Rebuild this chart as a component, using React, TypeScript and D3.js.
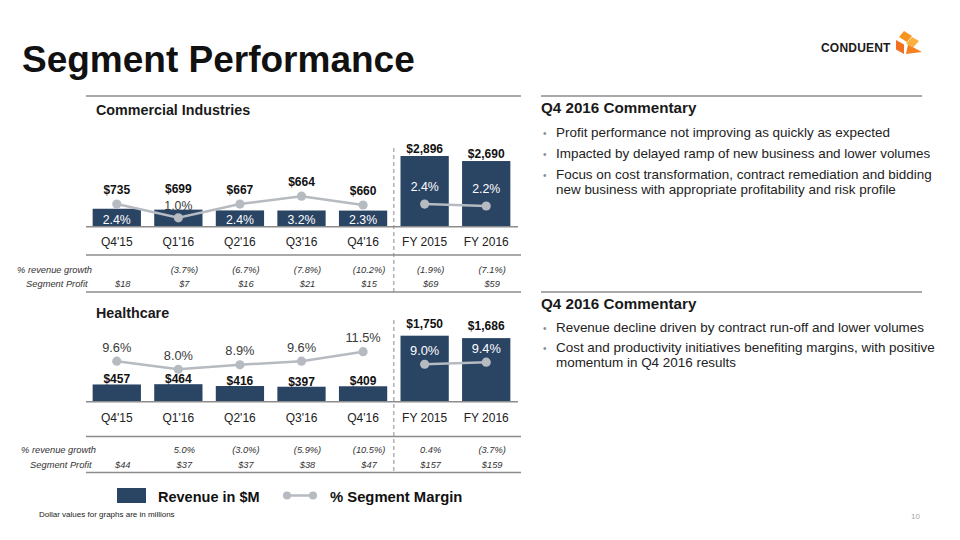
import React from 'react';
import * as d3 from 'd3';

const categories = ["Q4'15", "Q1'16", "Q2'16", "Q3'16", "Q4'16", "FY 2015", "FY 2016"];
const ciRevenue = [735, 699, 667, 664, 660, 2896, 2690];
const ciMargin = [2.4, 1.0, 2.4, 3.2, 2.3, 2.4, 2.2];
const ciGrowth = ["", "(3.7%)", "(6.7%)", "(7.8%)", "(10.2%)", "(1.9%)", "(7.1%)"];
const ciProfit = ["$18", "$7", "$16", "$21", "$15", "$69", "$59"];
const hcRevenue = [457, 464, 416, 397, 409, 1750, 1686];
const hcMargin = [9.6, 8.0, 8.9, 9.6, 11.5, 9.0, 9.4];
const hcGrowth = ["", "5.0%", "(3.0%)", "(5.9%)", "(10.5%)", "0.4%", "(3.7%)"];
const hcProfit = ["$44", "$37", "$37", "$38", "$47", "$157", "$159"];
const rowLabels = ["% revenue growth", "Segment Profit"];
const ciCommentary = [
  ["Profit performance not improving as quickly as expected"],
  ["Impacted by delayed ramp of new business and lower volumes"],
  ["Focus on cost transformation, contract remediation and bidding", "new business with appropriate profitability and risk profile"],
];
const hcCommentary = [
  ["Revenue decline driven by contract run-off and lower volumes"],
  ["Cost and productivity initiatives benefiting margins, with positive", "momentum in Q4 2016 results"],
];

const FONT = "'Liberation Sans', Arial, Helvetica, sans-serif";
const NAVY = "#2a4464";
const LINE = "#b6bac1";
const RULE = "#8c8c8c";
const NFY = 5;

type PanelProps = {
  title: string;
  titleY: number;
  axisY: number;
  revenue: number[];
  margin: number[];
  growth: string[];
  profit: string[];
  revMax: number;
  revPx: number;
  mDomain: [number, number];
  quarterMode: 'inBar' | 'above';
  fyMarginGap: number;
  fyRevGap: number;
  marginFont: number;
  catY: number;
  tableTop: number;
  row1: number;
  row2: number;
  tableBottom: number;
  dashTop: number;
  labelRight: number;
};

function Panel(p: PanelProps) {
  const x = d3.scaleBand<string>().domain(categories).range([86, 517]).paddingInner(0.216).paddingOuter(0.108);
  const bw = x.bandwidth();
  const cx = (c: string) => (x(c) as number) + bw / 2;
  const yR = d3.scaleLinear().domain([0, p.revMax]).range([p.axisY, p.axisY - p.revPx]);
  const yM = d3.scaleLinear().domain(p.mDomain).range([p.axisY, p.axisY - p.revPx]);
  const pts = categories.map((c, i) => [cx(c), yM(p.margin[i])] as [number, number]);
  const line = d3.line<[number, number]>().x(d => d[0]).y(d => d[1]);
  const dashX = ((x(categories[4]) as number) + bw + (x(categories[5]) as number)) / 2;

  const labels = categories.map((c, i) => {
    const px = pts[i][1];
    const top = yR(p.revenue[i]);
    let mY: number, mFill: string, revY: number;
    if (i >= NFY) {
      mY = px - p.fyMarginGap;
      mFill = '#ffffff';
      revY = top - p.fyRevGap;
    } else if (p.quarterMode === 'inBar' && px < top) {
      mY = p.axisY - 3;
      mFill = '#ffffff';
      revY = px - 10;
    } else if (p.quarterMode === 'inBar') {
      mY = px - 8;
      mFill = '#3a3a3a';
      revY = mY - 16.5;
    } else {
      mY = px - 9.5;
      mFill = '#3a3a3a';
      revY = top - 1;
    }
    return { c, mY, mFill, revY };
  });

  return (
    <g>
      <text x={96} y={p.titleY} fontSize={14.3} fontWeight="bold" fill="#1a1a1a">{p.title}</text>
      {categories.map((c, i) => (
        <rect key={c} x={x(c)} y={yR(p.revenue[i])} width={bw} height={p.axisY - yR(p.revenue[i])} fill={NAVY} />
      ))}
      <line x1={86} x2={518} y1={p.axisY} y2={p.axisY} stroke={RULE} strokeWidth={1.5} />
      <path d={line(pts.slice(0, NFY)) || ''} fill="none" stroke={LINE} strokeWidth={2.5} />
      <path d={line(pts.slice(NFY)) || ''} fill="none" stroke={LINE} strokeWidth={2.5} />
      {pts.map((d, i) => (
        <circle key={i} cx={d[0]} cy={d[1]} r={4.6} fill={LINE} />
      ))}
      {labels.map((l, i) => (
        <g key={l.c}>
          <text x={cx(l.c)} y={l.mY} textAnchor="middle" fontSize={p.marginFont} fill={l.mFill}>
            {d3.format('.1f')(p.margin[i]) + '%'}
          </text>
          <text x={cx(l.c)} y={l.revY} textAnchor="middle" fontSize={12} fontWeight="bold" fill="#111">
            {'$' + d3.format(',')(p.revenue[i])}
          </text>
          <text x={cx(l.c)} y={p.catY} textAnchor="middle" fontSize={12} fill="#222">{l.c}</text>
        </g>
      ))}
      <line x1={dashX} x2={dashX} y1={p.dashTop} y2={p.tableBottom} stroke={RULE} strokeWidth={1} strokeDasharray="4,3" />
      <line x1={86} x2={521} y1={p.tableTop} y2={p.tableTop} stroke={RULE} strokeWidth={1.5} />
      <line x1={86} x2={521} y1={p.tableBottom} y2={p.tableBottom} stroke={RULE} strokeWidth={1.5} />
      <text x={p.labelRight} y={p.row1} textAnchor="end" fontSize={9.3} fontStyle="italic" fill="#333">{rowLabels[0]}</text>
      <text x={p.labelRight - 4.4} y={p.row2} textAnchor="end" fontSize={9.3} fontStyle="italic" fill="#333">{rowLabels[1]}</text>
      {categories.map((c, i) => (
        <g key={'t' + c}>
          <text x={cx(c) + 6} y={p.row1} textAnchor="middle" fontSize={9.3} fontStyle="italic" fill="#333">{p.growth[i]}</text>
          <text x={cx(c) + 6} y={p.row2} textAnchor="middle" fontSize={9.3} fontStyle="italic" fill="#333">{p.profit[i]}</text>
        </g>
      ))}
    </g>
  );
}

function Commentary({ top, bullets, lineYs }: { top: number; bullets: string[][]; lineYs: number[][] }) {
  return (
    <g>
      <line x1={541} x2={922} y1={top} y2={top} stroke={RULE} strokeWidth={1.5} />
      <text x={541} y={top + 17} fontSize={15.2} fontWeight="bold" fill="#1a1a1a">Q4 2016 Commentary</text>
      {bullets.map((b, i) => (
        <g key={i}>
          <text x={543} y={lineYs[i][0]} fontSize={10} fill="#8c8c8c">•</text>
          {b.map((ln, j) => (
            <text key={j} x={556} y={lineYs[i][j]} fontSize={13.45} fill="#222">{ln}</text>
          ))}
        </g>
      ))}
    </g>
  );
}

function Logo() {
  return (
    <g>
      <text x={821} y={52} fontSize={12} fontWeight={900} fill="#1a1a1a" letterSpacing={0.2}>CONDUENT</text>
      <polygon points="904,31 912,36 907,42 899,37" fill="#f7941d" />
      <polygon points="896,40 904,44.5 904,54 896,49.5" fill="#f26f21" />
      <polygon points="908,44.5 922,52 906,54" fill="#f58220" />
      <polygon points="912,37 919,41 913,47.5 906,43.5" fill="#fbb040" />
    </g>
  );
}

export default function App() {
  return (
    <svg width={960} height={540} style={{ position: 'absolute', left: 0, top: 0, background: '#fff' }} fontFamily={FONT}>
      <rect x={0} y={0} width={960} height={540} fill="#fff" />
      <text x={22} y={72} fontSize={37} fontWeight="bold" fill="#111">Segment Performance</text>
      <Logo />
      <line x1={86} x2={521} y1={96} y2={96} stroke={RULE} strokeWidth={1.5} />
      <Panel
        title="Commercial Industries" titleY={115} axisY={226.7}
        revenue={ciRevenue} margin={ciMargin} growth={ciGrowth} profit={ciProfit}
        revMax={3000} revPx={73.24} mDomain={[0.1, 7.53]}
        quarterMode="inBar" fyMarginGap={13} fyRevGap={3} marginFont={12.3}
        catY={246} tableTop={255} row1={272.5} row2={286.5} tableBottom={292}
        dashTop={148} labelRight={92}
      />
      <Panel
        title="Healthcare" titleY={318} axisY={401.7}
        revenue={hcRevenue} margin={hcMargin} growth={hcGrowth} profit={hcProfit}
        revMax={2000} revPx={75.43} mDomain={[1.55, 16.55]}
        quarterMode="above" fyMarginGap={9} fyRevGap={8} marginFont={12.8}
        catY={421.5} tableTop={436.5} row1={453} row2={467.5} tableBottom={472.5}
        dashTop={320} labelRight={96}
      />
      <Commentary top={96} bullets={ciCommentary} lineYs={[[137], [158], [178.5, 194]]} />
      <Commentary top={292} bullets={hcCommentary} lineYs={[[332], [351.5, 367]]} />
      <rect x={117} y={488} width={29} height={15} fill={NAVY} />
      <text x={158} y={501.5} fontSize={14.5} fontWeight="bold" fill="#111">Revenue in $M</text>
      <line x1={287} x2={313} y1={495.5} y2={495.5} stroke={LINE} strokeWidth={2.5} />
      <circle cx={287} cy={495.5} r={4} fill={LINE} />
      <circle cx={313} cy={495.5} r={4} fill={LINE} />
      <text x={330} y={501.5} fontSize={14.8} fontWeight="bold" fill="#111">% Segment Margin</text>
      <text x={39} y={517} fontSize={8} fill="#222">Dollar values for graphs are in millions</text>
      <text x={911} y={519} fontSize={8} fill="#a6a6a6">10</text>
    </svg>
  );
}
